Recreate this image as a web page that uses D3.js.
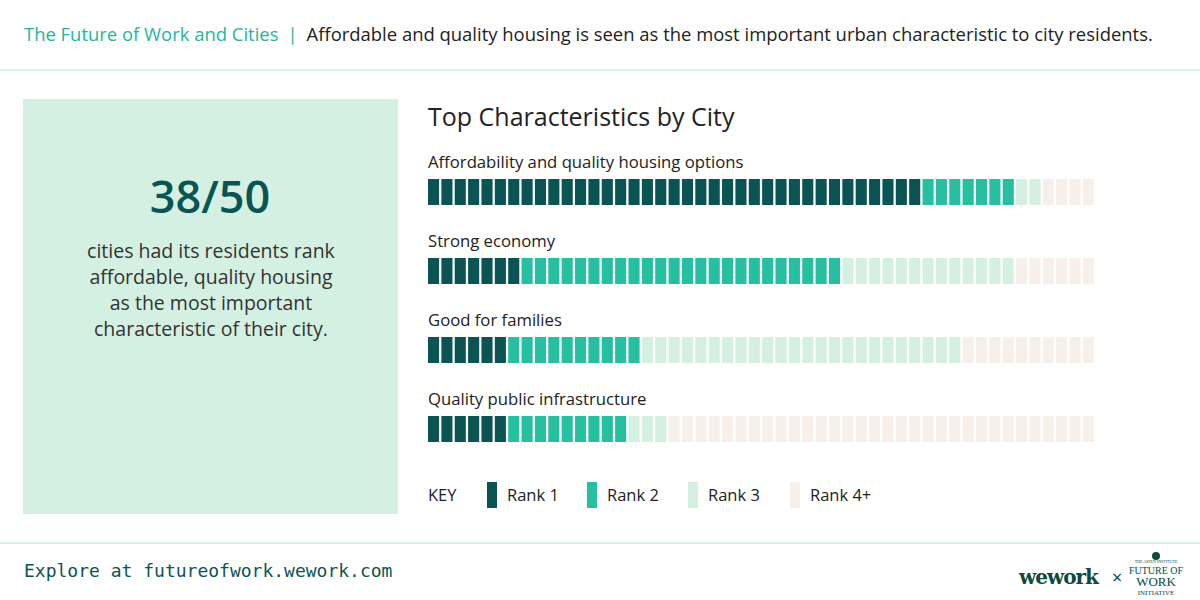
<!DOCTYPE html>
<html>
<head>
<meta charset="utf-8">
<script src="https://cdn.jsdelivr.net/npm/d3@7"></script>
<style>
  body { margin: 0; background: #fff; }
  svg { display: block; font-family: "Open Sans", sans-serif; }
</style>
</head>
<body>
<div id="chart"></div>
<script>
// data
const characteristics = [
  'Affordability and quality housing options',
  'Strong economy',
  'Good for families',
  'Quality public infrastructure'
];
const rank1 = [37, 7, 6, 6];
const rank2 = [7, 24, 10, 9];
const rank3 = [2, 13, 24, 3];
const rank4 = [4, 6, 10, 32];
const rankLabels = ['Rank 1', 'Rank 2', 'Rank 3', 'Rank 4+'];
const totalCities = 50;

const colors = ['#0b5454', '#26bf9f', '#d3f0e3', '#f7efea'];
const ink = '#222';

const width = 1200, height = 600;

const svg = d3.select('#chart')
    .append('svg')
    .attr('width', width)
    .attr('height', height);

// header
const header = svg.append('text')
    .attr('x', 24)
    .attr('y', 41)
    .attr('font-size', 18.45);
header.append('tspan').attr('fill', '#26b597').text('The Future of Work and Cities');
header.append('tspan').attr('fill', '#26b597').attr('dx', 9).text('|');
header.append('tspan').attr('fill', ink).attr('dx', 9)
    .text('Affordable and quality housing is seen as the most important urban characteristic to city residents.');

svg.append('rect')
    .attr('x', 0).attr('y', 69)
    .attr('width', width).attr('height', 2)
    .attr('fill', '#d8f0e7');

// left stat panel
svg.append('rect')
    .attr('x', 23).attr('y', 99)
    .attr('width', 375).attr('height', 415)
    .attr('fill', '#d3f0e2');

svg.append('text')
    .attr('x', 210).attr('y', 213)
    .attr('text-anchor', 'middle')
    .attr('font-size', 45)
    .attr('font-weight', 600)
    .attr('fill', '#0b5454')
    .text(rank1[0] + 1 + '/' + totalCities);

const statLines = ['cities had its residents rank', 'affordable, quality housing',
    'as the most important', 'characteristic of their city.'];
svg.append('g')
    .selectAll('text')
    .data(statLines)
    .enter()
    .append('text')
    .attr('x', 211)
    .attr('y', (d, i) => 258 + i * 26)
    .attr('text-anchor', 'middle')
    .attr('font-size', 19.5)
    .attr('fill', '#333')
    .text(d => d);

// chart
svg.append('text')
    .attr('x', 428).attr('y', 126)
    .attr('font-size', 25)
    .attr('font-weight', 500)
    .attr('fill', ink)
    .text('Top Characteristics by City');

const x = d3.scaleBand()
    .domain(d3.range(totalCities))
    .range([428, 1094])
    .paddingInner(0.17)
    .paddingOuter(0);

const y = d3.scalePoint()
    .domain(characteristics)
    .range([179, 416]);

const rows = characteristics.map((name, i) => {
    const counts = [rank1[i], rank2[i], rank3[i], rank4[i]];
    const cells = [];
    counts.forEach((c, r) => {
        for (let k = 0; k < c; k++) cells.push(r);
    });
    return { name, cells };
});

const rowG = svg.selectAll('g.row')
    .data(rows)
    .enter()
    .append('g')
    .attr('class', 'row')
    .attr('transform', d => `translate(0,${y(d.name)})`);

rowG.append('text')
    .attr('x', 428)
    .attr('y', -11)
    .attr('font-size', 16.7)
    .attr('fill', ink)
    .text(d => d.name);

rowG.selectAll('rect')
    .data(d => d.cells)
    .enter()
    .append('rect')
    .attr('x', (d, i) => x(i))
    .attr('y', 0)
    .attr('width', x.bandwidth())
    .attr('height', 26)
    .attr('fill', d => colors[d]);

// legend
const legend = svg.append('g');
legend.append('text')
    .attr('x', 428).attr('y', 501)
    .attr('font-size', 16.5)
    .attr('fill', ink)
    .text('KEY');

const legendX = d3.scaleOrdinal()
    .domain(rankLabels)
    .range([487, 587, 688, 790]);

const item = legend.selectAll('g.item')
    .data(rankLabels)
    .enter()
    .append('g')
    .attr('class', 'item');

item.append('rect')
    .attr('x', d => legendX(d))
    .attr('y', 482)
    .attr('width', 10)
    .attr('height', 26)
    .attr('fill', (d, i) => colors[i]);

item.append('text')
    .attr('x', d => legendX(d) + 20)
    .attr('y', 501)
    .attr('font-size', 16.5)
    .attr('fill', ink)
    .text(d => d);

// footer
svg.append('rect')
    .attr('x', 0).attr('y', 542)
    .attr('width', width).attr('height', 2)
    .attr('fill', '#d8f0e7');

svg.append('text')
    .attr('x', 24).attr('y', 577)
    .attr('font-family', '"DejaVu Sans Mono", monospace')
    .attr('font-size', 18)
    .attr('fill', '#0b5454')
    .text('Explore at futureofwork.wework.com');

// logo
svg.append('text')
    .attr('x', 1019).attr('y', 584)
    .attr('font-family', '"DejaVu Serif", serif')
    .attr('font-weight', 'bold')
    .attr('font-size', 20)
    .attr('letter-spacing', -1)
    .attr('fill', '#0b4a3c')
    .text('wework');

svg.append('text')
    .attr('x', 1112).attr('y', 584)
    .attr('font-size', 18)
    .attr('fill', '#0b4a3c')
    .text('×');

svg.append('circle')
    .attr('cx', 1156).attr('cy', 556).attr('r', 4)
    .attr('fill', '#0b4a3c');

const logoLines = [
    { t: 'THE ASPEN INSTITUTE', y: 563, s: 4 },
    { t: 'FUTURE OF', y: 574, s: 10 },
    { t: 'WORK', y: 586, s: 13 },
    { t: 'INITIATIVE', y: 595, s: 7 }
];
svg.append('g')
    .selectAll('text')
    .data(logoLines)
    .enter()
    .append('text')
    .attr('x', 1156)
    .attr('y', d => d.y)
    .attr('text-anchor', 'middle')
    .attr('font-family', '"Liberation Serif", serif')
    .attr('font-size', d => d.s)
    .attr('fill', '#0b4a3c')
    .text(d => d.t);
</script>
</body>
</html>
